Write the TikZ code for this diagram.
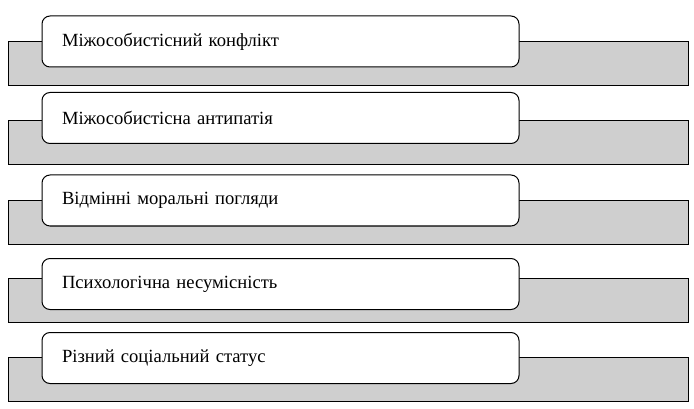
\documentclass[tikz,border=0pt]{standalone}
\usepackage{fontspec}
\setmainfont{Liberation Serif}
\usetikzlibrary{shapes}

\begin{document}
\begin{tikzpicture}[x = 1pt, y = -1pt]
	\tikzstyle{bandStyle} = [shape = rectangle, draw, line width = 1pt, fill = black!19, minimum width = 680pt, minimum height = 44pt, inner sep = 0pt]
	\tikzstyle{boxStyle} = [shape = rectangle, draw, line width = 1pt, fill = white, rounded corners = 8pt, minimum height = 51pt, text width = 437pt, inner xsep = 20pt, inner ysep = 0pt, align = left, font = \fontsize{18.6}{20}\selectfont]
	\useasboundingbox (0, 0) rectangle (694, 409);
	\node[bandStyle] (b1) at (348, 64) {};
	\node[boxStyle] (v1) at (280.5, 41.5) {Міжособистісний конфлікт};
	\node[bandStyle] (b2) at (348, 143) {};
	\node[boxStyle] (v2) at (280.5, 118) {Міжособистісна антипатія};
	\node[bandStyle] (b3) at (348, 222.5) {};
	\node[boxStyle] (v3) at (280.5, 200.5) {Відмінні моральні погляди};
	\node[bandStyle] (b4) at (348, 300.5) {};
	\node[boxStyle] (v4) at (280.5, 284) {Психологічна несумісність};
	\node[bandStyle] (b5) at (348, 379.5) {};
	\node[boxStyle] (v5) at (280.5, 358) {Різний соціальний статус};
\end{tikzpicture}
\end{document}
